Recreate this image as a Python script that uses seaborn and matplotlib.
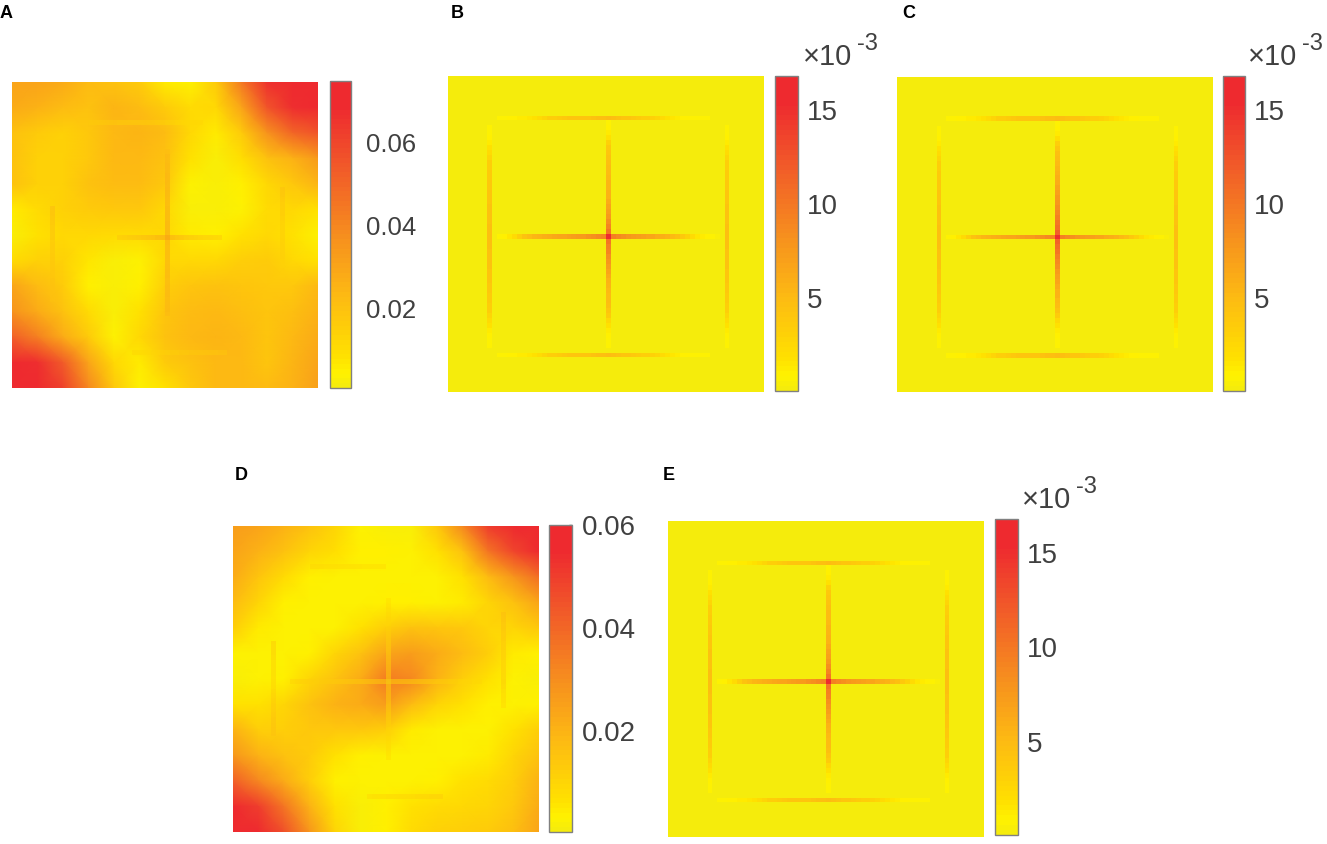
import numpy as np
import matplotlib
matplotlib.use("Agg")
import matplotlib.pyplot as plt
from matplotlib.colors import LinearSegmentedColormap
import seaborn as sns

sns.set_theme(style="white")
plt.rcParams['font.family'] = ['Liberation Sans', 'DejaVu Sans']

W, H = 1327, 844
GRID = 64
INK = '#404040'

# --- colour map ---
map_stops = [0.0, 0.04, 0.10, 0.30, 0.47, 0.72, 0.92, 1.0]
map_colors = ['#f5ec0c', '#fff200', '#ffe000', '#fdb913', '#f7941d', '#f15a29', '#ee2a2f', '#ee2a2f']

# --- smooth backgrounds, 13 x 13 samples over the panel ---
base_a = [
    [.030, .030, .028, .022, .020, .016, .006, .004, .016, .044, .066, .072, .075],
    [.028, .026, .022, .020, .024, .022, .016, .010, .012, .030, .056, .068, .072],
    [.020, .016, .014, .018, .023, .024, .022, .012, .006, .016, .036, .050, .056],
    [.020, .014, .014, .018, .023, .023, .020, .008, .003, .009, .020, .026, .034],
    [.020, .014, .014, .020, .022, .022, .018, .004, .002, .005, .012, .018, .024],
    [.006, .010, .014, .016, .018, .018, .012, .003, .002, .004, .010, .012, .008],
    [.003, .008, .012, .012, .010, .010, .012, .006, .005, .008, .012, .008, .004],
    [.010, .014, .014, .007, .003, .004, .012, .012, .012, .015, .016, .012, .008],
    [.030, .022, .016, .005, .002, .005, .015, .019, .020, .019, .018, .018, .023],
    [.036, .028, .020, .010, .003, .008, .019, .022, .023, .021, .019, .021, .026],
    [.052, .042, .028, .016, .004, .012, .020, .023, .024, .023, .019, .023, .028],
    [.072, .068, .054, .030, .012, .006, .016, .020, .023, .023, .019, .024, .030],
    [.075, .072, .062, .040, .018, .004, .008, .018, .023, .023, .022, .026, .032],
]
base_d = [
    [.026, .024, .020, .016, .010, .003, .002, .002, .014, .032, .050, .057, .060],
    [.024, .020, .016, .010, .007, .004, .004, .003, .006, .016, .036, .048, .056],
    [.022, .015, .008, .004, .003, .003, .003, .003, .003, .006, .018, .028, .038],
    [.018, .010, .004, .003, .003, .003, .004, .004, .003, .005, .010, .016, .024],
    [.012, .005, .003, .003, .003, .006, .012, .016, .015, .014, .010, .010, .014],
    [.003, .003, .003, .004, .010, .016, .024, .026, .022, .018, .012, .005, .004],
    [.002, .003, .004, .010, .016, .022, .034, .032, .020, .012, .006, .003, .002],
    [.006, .006, .010, .016, .020, .022, .026, .018, .010, .006, .004, .003, .004],
    [.020, .012, .012, .014, .014, .014, .012, .005, .003, .003, .003, .006, .012],
    [.028, .020, .016, .013, .006, .004, .003, .003, .003, .003, .005, .010, .016],
    [.042, .032, .022, .012, .004, .003, .003, .003, .004, .006, .008, .012, .020],
    [.056, .050, .036, .020, .006, .002, .004, .006, .008, .009, .010, .014, .022],
    [.060, .056, .046, .028, .010, .002, .004, .008, .011, .012, .013, .017, .024],
]

# --- thin lines on the 64 grid: (row or col, index, first cell, values) ---
lines_a = [
    ('row', 32, 22, [.018, .019, .020, .021, .022, .023, .024, .026, .028, .029, .040, .028, .026, .024, .022, .021, .020, .019, .018, .017, .016, .015]),
    ('col', 32, 14, [.022, .024, .025, .026, .026, .027, .027, .027, .028, .028, .028, .028, .029, .029, .029, .030, .030, .030, .040, .029, .028, .028, .028, .027, .027, .027, .027, .026, .026, .026, .026, .025, .025, .024, .023]),
    ('row', 8, 14, [.017, .017, .016, .016, .016, .016, .016, .016, .015, .015, .015, .015, .015, .015, .015, .015, .014, .014, .013, .013, .012, .012, .012, .012, .012, .012]),
    ('row', 56, 25, [.012, .012, .012, .012, .013, .013, .014, .014, .015, .015, .016, .016, .017, .017, .018, .018, .018, .018, .019, .019]),
    ('col', 8, 26, [.022, .022, .021, .021, .020, .020, .020, .019, .019, .019, .019, .019, .019, .019, .019, .020, .020, .020, .020, .020]),
    ('col', 56, 22, [.020, .020, .019, .018, .017, .017, .016, .015, .015, .015, .015, .015, .015, .015, .015, .014, .014, .015, .015, .016]),
]
lines_d = [
    ('row', 32, 12, [.010, .011, .012, .012, .012, .012, .013, .013, .013, .013, .013, .013, .013, .013, .013, .013, .013, .013, .013, .012, .002, .012, .012, .012, .012, .012, .012, .012, .012, .012, .012, .012, .012, .011, .011, .010, .010, .010, .009, .009]),
    ('col', 32, 15, [.006, .007, .008, .009, .010, .010, .011, .012, .012, .012, .012, .012, .013, .013, .013, .013, .012, .002, .012, .013, .013, .013, .012, .012, .011, .011, .011, .010, .010, .009, .008, .008, .007, .006]),
    ('row', 8, 16, [.009, .009, .009, .008, .008, .008, .008, .008, .008, .008, .008, .007, .007, .007, .007, .007]),
    ('row', 56, 28, [.008, .009, .009, .009, .010, .010, .010, .010, .010, .010, .011, .011, .011, .012, .012, .012]),
    ('col', 8, 24, [.012, .012, .012, .011, .010, .010, .010, .010, .010, .010, .011, .012, .013, .014, .014, .015, .016, .016, .016, .016]),
    ('col', 56, 18, [.017, .017, .016, .016, .015, .015, .014, .014, .013, .013, .012, .012, .012, .012, .013, .012, .010, .009, .009, .008]),
]
# units of 1e-3
frame_top = [.7, .8, .9, 1.0, 1.1, 1.2, 1.4, 1.8, 2.2, 2.8, 3.2, 3.4, 3.6, 3.8, 4.0, 4.2, 4.2, 4.2, 4.2, 4.4, 4.6, 4.6, 4.8, 4.6, 4.4, 4.2, 4.0, 3.8, 3.6, 3.4, 3.2, 3.0, 2.8, 2.4, 1.8, 1.4, 1.1, 1.0, .9, .8, .7, .6, .6]
frame_side = [.7, .8, 1.0, 1.3, 1.8, 2.4, 2.9, 3.2, 3.4, 3.6, 3.7, 3.8, 3.9, 4.0, 4.1, 4.2, 4.3, 4.3, 4.4, 4.4, 4.5, 4.5, 4.5, 4.5, 4.5, 4.4, 4.4, 4.3, 4.3, 4.2, 4.1, 4.0, 3.9, 3.8, 3.7, 3.6, 3.4, 3.2, 2.9, 2.4, 1.8, 1.3, 1.0, .8, .7]
cross_row = [.8, 1.0, 1.4, 2.2, 3.4, 4.4, 5.0, 5.4, 5.8, 6.0, 6.2, 6.5, 6.6, 6.8, 7.0, 7.2, 7.4, 7.6, 8.0, 8.4, 8.8, 9.2, 16.6, 9.4, 8.8, 8.2, 7.8, 7.4, 7.2, 7.0, 6.8, 6.6, 6.3, 6.0, 5.6, 5.2, 4.6, 3.8, 3.0, 2.2, 1.6, 1.2, .9, .7, .5]
cross_col_b = [.8, .9, 1.2, 1.8, 3.0, 3.8, 4.2, 4.4, 4.6, 4.8, 5.0, 5.2, 5.3, 5.4, 5.6, 5.8, 6.2, 6.6, 7.0, 7.6, 8.2, 9.0, 10.2, 16.6, 10.2, 9.4, 9.0, 8.4, 7.8, 7.2, 6.8, 6.2, 5.8, 5.4, 5.2, 5.0, 4.8, 4.6, 4.2, 3.6, 2.6, 1.8, 1.3, 1.0, .8, .6]
cross_col_c = [.8, .9, 1.2, 2.0, 3.4, 4.2, 4.6, 4.9, 5.2, 5.5, 5.8, 6.0, 6.3, 6.6, 7.0, 7.4, 7.8, 8.2, 8.8, 9.4, 10.0, 10.6, 11.6, 16.6, 11.4, 10.6, 10.0, 9.4, 8.8, 8.2, 7.6, 7.0, 6.6, 6.2, 5.8, 5.6, 5.2, 4.8, 4.4, 3.6, 2.6, 1.8, 1.3, 1.0, .8, .6]
milli_floor = 0.25

lines_b = [('row', 32, 10, cross_row), ('col', 32, 9, cross_col_b), ('row', 8, 10, frame_top),
           ('row', 56, 10, frame_top), ('col', 8, 10, frame_side), ('col', 56, 10, frame_side)]
lines_c = [('row', 32, 10, cross_row), ('col', 32, 9, cross_col_c), ('row', 8, 10, frame_top),
           ('row', 56, 10, frame_top), ('col', 8, 10, frame_side), ('col', 56, 10, frame_side)]

ticks_small = [0.02, 0.04, 0.06]
ticks_milli = [5, 10, 15]
labels_small = ['0.02', '0.04', '0.06']
labels_milli = ['5', '10', '15']


def px_axes(fig, left, top, right, bottom):
    return fig.add_axes([left / W, 1 - bottom / H, (right - left) / W, (bottom - top) / H])


def line_cells(lines, fill=np.nan):
    cells = np.full((GRID, GRID), fill, dtype=float)
    for kind, idx, start, values in lines:
        stop = start + len(values)
        if kind == 'row':
            cells[idx, start:stop] = values
        else:
            cells[start:stop, idx] = values
    return cells


cmap = LinearSegmentedColormap.from_list('yor', list(zip(map_stops, map_colors)), N=64)
fig = plt.figure(figsize=(W / 100, H / 100), dpi=100)


def draw_panel(box, bar, limits, ticks, labels, lines, base=None, fill=np.nan, size=20, pad=6.5):
    vmin, vmax = limits
    cax = px_axes(fig, *bar)
    ax0 = px_axes(fig, *box)
    if base is not None:
        # smooth field first, the thin lines go over it half see-through
        sns.heatmap(np.array(base), ax=ax0, cbar_ax=cax, cmap=cmap, vmin=vmin, vmax=vmax,
                    xticklabels=False, yticklabels=False, shading='gouraud', cbar_kws={'ticks': ticks})
        ax0.set_xlim(0, len(base) - 1)
        ax0.set_ylim(len(base) - 1, 0)
        ax1 = px_axes(fig, *box)
        cells = line_cells(lines)
        sns.heatmap(cells, ax=ax1, cbar=False, mask=np.isnan(cells), cmap=cmap, vmin=vmin, vmax=vmax,
                    xticklabels=False, yticklabels=False, alpha=0.55)
        ax1.set_axis_off()
    else:
        sns.heatmap(line_cells(lines, fill), ax=ax0, cbar_ax=cax, cmap=cmap, vmin=vmin, vmax=vmax,
                    xticklabels=False, yticklabels=False, cbar_kws={'ticks': ticks})
    ax0.set_axis_off()

    cbar = ax0.collections[0].colorbar
    cbar.set_ticklabels(labels)
    cbar.ax.tick_params(direction='in', length=2, width=1, color=INK, labelsize=size,
                        labelcolor=INK, pad=pad, right=True)
    cbar.outline.set_visible(True)
    cbar.outline.set_edgecolor('#808080')
    cbar.outline.set_linewidth(1)


def exponent(x, y):
    fig.text(x / W, 1 - y / H, '×10', fontsize=21, color=INK, va='baseline', ha='left')
    fig.text((x + 54) / W, 1 - (y - 15) / H, '-3', fontsize=17, color=INK, va='baseline', ha='left')


draw_panel((12, 82, 318, 388), (330, 81, 351, 388), (0.0007, 0.075), ticks_small, labels_small, lines_a,
           base=base_a, size=18.5, pad=10.5)
draw_panel((448, 76, 764, 392), (775, 76, 798, 391), (0.05, 16.8), ticks_milli, labels_milli, lines_b, fill=milli_floor)
draw_panel((897, 77, 1213, 392), (1223, 76, 1245, 391), (0.05, 16.8), ticks_milli, labels_milli, lines_c, fill=milli_floor)
draw_panel((233, 526, 539, 832), (549, 525, 572, 832), (0.0004, 0.06), ticks_small, labels_small, lines_d,
           base=base_d, pad=7)
draw_panel((668, 521, 984, 837), (995, 519, 1018, 835), (0.05, 16.8), ticks_milli, labels_milli, lines_b, fill=milli_floor)

exponent(803, 65)
exponent(1248, 65)
exponent(1022, 508)

for letter, x, y in [('A', 0, 18), ('B', 451, 18), ('C', 902, 18), ('D', 235, 480), ('E', 663, 480)]:
    fig.text(x / W, 1 - y / H, letter, fontsize=13, fontweight='bold', color='black', va='baseline')

fig.savefig('out.png', dpi=100)
